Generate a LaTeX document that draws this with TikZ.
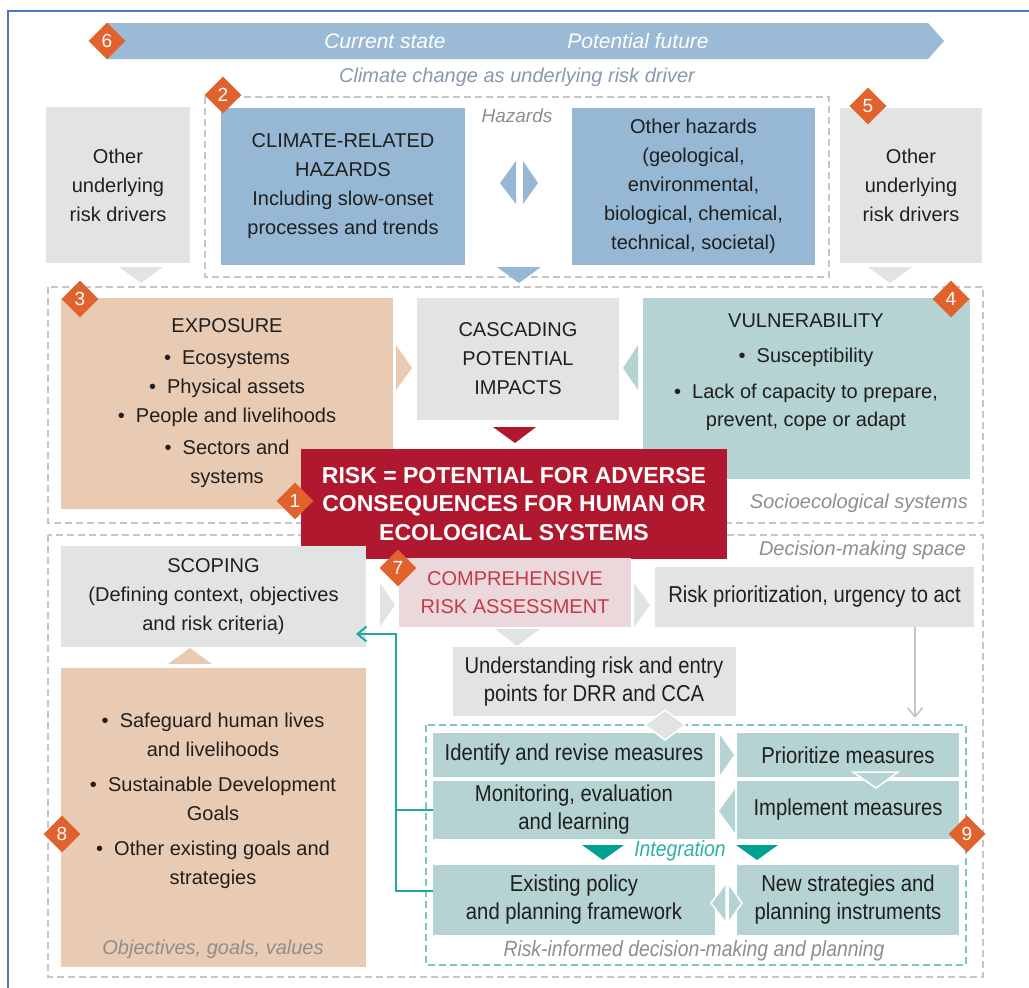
\documentclass[tikz,border=0pt]{standalone}
\usepackage{fontspec}
\setmainfont{Liberation Sans}
\newfontfamily\condfont[FakeStretch=0.88]{Liberation Sans}
\usetikzlibrary{shapes.geometric,arrows.meta}
\definecolor{bandblue}{HTML}{9BBAD6}
\definecolor{hazblue}{HTML}{97B8D5}
\definecolor{boxgray}{HTML}{E2E4E3}
\definecolor{peach}{HTML}{E9CBB4}
\definecolor{tealbox}{HTML}{B4D3D2}
\definecolor{riskred}{HTML}{B0182F}
\definecolor{pinkbox}{HTML}{EBD8DB}
\definecolor{pinktext}{HTML}{C43A4D}
\definecolor{orng}{HTML}{E2622E}
\definecolor{labgray}{HTML}{8E8E8E}
\definecolor{climlab}{HTML}{8798B0}
\definecolor{dashgray}{HTML}{C6C6C6}
\definecolor{tdashc}{HTML}{7FC8BD}
\definecolor{tlinec}{HTML}{1FA89E}
\definecolor{integr}{HTML}{2DB3A5}
\definecolor{darkteal}{HTML}{00A092}
\definecolor{frameblue}{HTML}{4A76C6}
\definecolor{txt}{HTML}{1F1F1F}
\tikzset{
  bx/.style={inner sep=0pt, outer sep=0pt, align=center, text=txt, font=\fontsize{20}{29}\selectfont},
  cbx/.style={bx, font=\condfont\fontsize{23}{28}\selectfont},
  numd/.style={diamond, aspect=1, fill=orng, minimum width=37pt, minimum height=37pt, inner sep=0pt, text=white, font=\fontsize{19}{19}\selectfont},
  gdash/.style={draw=dashgray, line width=1.6pt, dash pattern=on 7pt off 4pt},
  tdash/.style={draw=tdashc, line width=1.8pt, dash pattern=on 7pt off 4pt},
  lab/.style={inner sep=0pt, text=labgray, font=\itshape\fontsize{20}{24}\selectfont},
  tline/.style={draw=tlinec, line width=1.9pt},
  garrow/.style={draw=dashgray, line width=1.6pt, -{Straight Barb[length=9pt,width=15pt]}},
}
\begin{document}
\begin{tikzpicture}[x=1pt,y=-1pt]
\useasboundingbox (0,0) rectangle (1029,988);
\fill[white] (0,0) rectangle (1029,988);
% frame
\draw[frameblue, line width=1.6pt] (8,988) -- (8,11) -- (1029,11);
% top band
\fill[bandblue] (107,23) -- (928,23) -- (944,41) -- (928,59) -- (107,59) -- cycle;
\node[inner sep=0pt, text=white, font=\itshape\fontsize{21}{24}\selectfont] (cur) at (385,41) {Current state};
\node[inner sep=0pt, text=white, font=\itshape\fontsize{21}{24}\selectfont] (fut) at (638,41) {Potential future};
\node[numd] (n6) at (107,41) {6};
\node[lab, text=climlab] (clim) at (517,77) {Climate change as underlying risk driver};
% hazards
\draw[gdash] (205,97) rectangle (829,277);
\node[bx, fill=hazblue, minimum width=244pt, minimum height=157pt] (crh) at (343,186.5) {CLIMATE-RELATED\\HAZARDS\\Including slow-onset\\processes and trends};
\node[bx, fill=hazblue, minimum width=243pt, minimum height=157pt] (oh) at (693.5,186.5) {Other hazards\\(geological,\\environmental,\\biological, chemical,\\technical, societal)};
\node[lab, font=\itshape\fontsize{19}{22}\selectfont] (hazl) at (517,116) {Hazards};
\fill[hazblue] (500,183) -- (516,161) -- (516,204) -- cycle;
\fill[hazblue] (538,183) -- (523,161) -- (523,204) -- cycle;
\fill[hazblue] (497,267) -- (541,267) -- (519,283) -- cycle;
% other drivers
\node[bx, fill=boxgray, minimum width=144pt, minimum height=156pt] (odl) at (118,185) {Other\\underlying\\risk drivers};
\node[bx, fill=boxgray, minimum width=142pt, minimum height=155pt] (odr) at (911,185.5) {Other\\underlying\\risk drivers};
\fill[boxgray] (119,267) -- (163,267) -- (141,283) -- cycle;
\fill[boxgray] (868,267) -- (912,267) -- (890,283) -- cycle;
\node[numd] (n2) at (223,95) {2};
\node[numd] (n5) at (868,106) {5};
% socioecological
\draw[gdash] (48,287) rectangle (983,523);
\node[bx, fill=peach, minimum width=332pt, minimum height=211pt] (expo) at (227,403.5) {EXPOSURE\\[3pt]\textbullet\ \ Ecosystems\\\textbullet\ \ Physical assets\\\textbullet\ \ People and livelihoods\\[3pt]\textbullet\ \ Sectors and\\systems};
\node[bx, fill=boxgray, minimum width=202pt, minimum height=122pt] (casc) at (518,359) {CASCADING\\POTENTIAL\\IMPACTS};
\node[bx, fill=tealbox, minimum width=327pt, minimum height=181pt] (vuln) at (806.5,388.5) {};
\node[bx, font=\fontsize{20}{28}\selectfont] (vulnt) at (806,372) {VULNERABILITY\\[7pt]\textbullet\ \ Susceptibility\\[8pt]\textbullet\ \ Lack of capacity to prepare,\\prevent, cope or adapt};
\fill[peach] (396,345) -- (412,368) -- (396,390) -- cycle;
\fill[tealbox] (638,345) -- (623,368) -- (638,390) -- cycle;
\fill[riskred] (493,427) -- (536,427) -- (515,443) -- cycle;
\node[lab, anchor=east] (socl) at (968,503) {Socioecological systems};
% decision-making space
\draw[gdash] (48,535) rectangle (983,977);
\node[lab, anchor=east] (decl) at (966,550) {Decision-making space};
% risk box
\node[bx, fill=riskred, text=white, minimum width=426pt, minimum height=110pt, font=\bfseries\fontsize{23}{28.5}\selectfont] (risk) at (514,504) {RISK = POTENTIAL FOR ADVERSE\\CONSEQUENCES FOR HUMAN OR\\ECOLOGICAL SYSTEMS};
\node[numd] (n1) at (295,501) {1};
\node[numd] (n3) at (80,299) {3};
\node[numd] (n4) at (951,299) {4};
% scoping etc
\node[bx, fill=boxgray, minimum width=305pt, minimum height=101pt] (scop) at (213.5,596.5) {SCOPING\\(Defining context, objectives\\and risk criteria)};
\fill[peach] (168,664) -- (212,664) -- (190,648) -- cycle;
\node[bx, fill=peach, minimum width=305pt, minimum height=299pt] (obj) at (213.5,817.5) {};
\node[bx, font=\fontsize{20}{28.5}\selectfont] (objt) at (213,801) {\textbullet\ \ Safeguard human lives\\and livelihoods\\[7pt]\textbullet\ \ Sustainable Development\\Goals\\[7pt]\textbullet\ \ Other existing goals and\\strategies};
\node[lab] (objl) at (213,949) {Objectives, goals, values};
\fill[boxgray] (380,583) -- (395,605) -- (380,627) -- cycle;
\node[bx, fill=pinkbox, text=pinktext, minimum width=232pt, minimum height=69pt, font=\fontsize{20}{28}\selectfont] (comp) at (515,592.5) {COMPREHENSIVE\\RISK ASSESSMENT};
\fill[boxgray] (634,583) -- (650,605) -- (634,627) -- cycle;
\node[cbx, fill=boxgray, minimum width=319pt, minimum height=60pt] (riskp) at (814.5,597) {Risk prioritization, urgency to act};
\fill[boxgray] (495,629) -- (540,629) -- (517,646) -- cycle;
\node[cbx, fill=boxgray, minimum width=283pt, minimum height=69pt] (und) at (594,681.5) {Understanding risk and entry\\points for DRR and CCA};
% risk-informed planning
\draw[tdash] (426,725) rectangle (966,965);
\node[cbx, fill=tealbox, minimum width=282pt, minimum height=44pt] (ident) at (574,755) {Identify and revise measures};
\node[cbx, fill=tealbox, minimum width=222pt, minimum height=44pt] (prio) at (848,755) {Prioritize measures};
\node[cbx, fill=tealbox, minimum width=282pt, minimum height=58pt] (mon) at (574,810) {Monitoring, evaluation\\and learning};
\node[cbx, fill=tealbox, minimum width=222pt, minimum height=58pt] (impl) at (848,810) {Implement measures};
\node[cbx, fill=tealbox, minimum width=282pt, minimum height=70pt] (exist) at (574,900) {Existing policy\\and planning framework};
\node[cbx, fill=tealbox, minimum width=222pt, minimum height=70pt] (new) at (848,900) {New strategies and\\planning instruments};
\filldraw[fill=boxgray, draw=white, line width=1.5pt] (645,725) -- (665,710) -- (685,725) -- (665,740) -- cycle;
\fill[tealbox] (720,735) -- (734,755) -- (720,775) -- cycle;
\filldraw[fill=tealbox, draw=white, line width=1.5pt] (853,772) -- (898,772) -- (876,788) -- cycle;
\fill[tealbox] (735,789) -- (719,811) -- (735,833) -- cycle;
\fill[darkteal] (582,845) -- (624,845) -- (603,860) -- cycle;
\fill[darkteal] (736,845) -- (778,845) -- (757,860) -- cycle;
\node[inner sep=0pt, text=integr, font=\condfont\itshape\fontsize{22}{24}\selectfont] (integ) at (680,851) {Integration};
\filldraw[fill=tealbox, draw=white, line width=1.5pt] (711,903) -- (726,883) -- (726,923) -- cycle;
\filldraw[fill=tealbox, draw=white, line width=1.5pt] (742,903) -- (728,883) -- (728,923) -- cycle;
\node[lab, font=\condfont\itshape\fontsize{22}{24}\selectfont] (ridl) at (694,951) {Risk-informed decision-making and planning};
% connectors
\coordinate (tj) at (396,634);
\coordinate (tend) at (356,634);
\draw[tline, -{Straight Barb[length=9pt,width=15pt]}] ([yshift=9pt]exist.west) -| (tj) -- (tend);
\draw[tline] (mon.west) -- (mon.west -| tj);
\coordinate (gx) at (915,718);
\draw[garrow] (riskp.south -| gx) -- (gx);
% late diamonds
\node[numd] (n7) at (398,568) {7};
\node[numd] (n8) at (62,834) {8};
\node[numd] (n9) at (967,834) {9};
\end{tikzpicture}
\end{document}
